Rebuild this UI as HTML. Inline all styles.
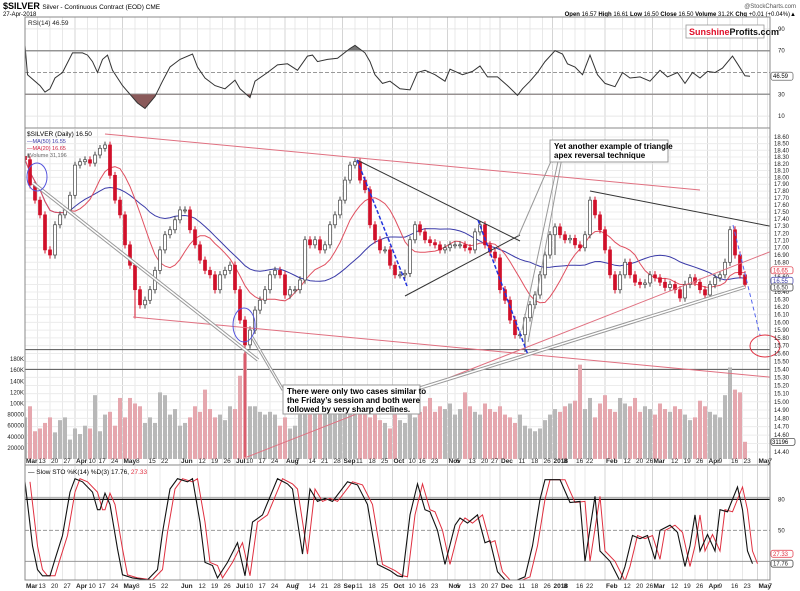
<!DOCTYPE html>
<html><head><meta charset="utf-8"><style>
html,body{margin:0;padding:0;background:#fff;}
svg{display:block;font-family:"Liberation Sans",sans-serif;}
</style></head><body>
<svg id="chart" width="800" height="591" viewBox="0 0 800 591" xmlns="http://www.w3.org/2000/svg">
<rect x="0" y="0" width="800" height="591" fill="#fff"/>
<text x="3" y="9" font-size="9" font-weight="bold">$SILVER <tspan font-size="6.5" font-weight="normal">Silver - Continuous Contract (EOD) CME</tspan></text>
<text x="3" y="16" font-size="6">27-Apr-2018</text>
<text x="796" y="8" font-size="6" text-anchor="end" fill="#555">@StockCharts.com</text>
<text x="796" y="16" font-size="6" text-anchor="end"><tspan font-weight="bold">Open</tspan> 16.57 <tspan font-weight="bold">High</tspan> 16.61 <tspan font-weight="bold">Low</tspan> 16.50 <tspan font-weight="bold">Close</tspan> 16.50 <tspan font-weight="bold">Volume</tspan> 31.2K <tspan font-weight="bold">Chg</tspan> +0.01 (+0.04%)▲</text>
<g id="grid"></g>
<g id="rsi"></g>
<g id="price"></g>
<g id="stoch"></g>
<g id="axes"></g>
<g id="annot"></g>
</svg>
<script>
const NS="http://www.w3.org/2000/svg";
const closes=[18.26,17.89,17.67,17.46,16.97,16.90,17.32,17.46,17.53,17.74,18.18,18.23,18.26,18.21,18.33,18.43,18.48,18.03,17.67,17.46,17.04,16.76,16.43,16.23,16.29,16.43,16.69,16.97,17.18,17.25,17.39,17.53,17.53,17.25,17.04,16.83,16.69,16.63,16.43,16.63,16.69,16.76,16.43,16.03,15.71,15.90,16.16,16.29,16.43,16.63,16.69,16.63,16.36,16.43,16.43,16.56,17.11,17.04,17.11,16.97,17.04,17.32,17.46,17.67,17.96,18.18,18.23,17.96,17.82,17.32,17.11,16.97,16.97,16.76,16.63,16.63,16.65,17.11,17.32,17.22,17.11,17.07,17.04,16.97,17.00,17.04,17.04,17.04,17.00,16.97,17.22,17.32,17.04,16.94,16.86,16.43,16.29,16.03,15.84,15.84,16.06,16.23,16.36,16.63,16.90,17.18,17.29,17.18,17.11,17.13,17.04,17.00,17.18,17.67,17.46,17.25,16.97,16.63,16.43,16.63,16.80,16.63,16.53,16.50,16.52,16.63,16.59,16.53,16.46,16.50,16.43,16.32,16.50,16.59,16.53,16.43,16.36,16.50,16.59,16.63,16.80,17.25,16.90,16.63,16.50];
const volumesK=[75,95,50,55,65,75,48,70,75,35,55,45,60,55,115,50,80,85,60,110,75,110,100,95,65,75,65,120,115,80,90,60,65,75,95,85,125,90,75,80,70,95,90,150,190,95,95,85,80,85,80,60,75,55,60,80,80,80,90,95,85,80,80,90,100,105,95,90,85,75,80,70,65,55,80,70,65,80,75,85,95,110,85,95,90,100,80,90,120,95,85,80,100,90,85,95,80,75,65,80,60,55,50,55,70,80,90,85,95,100,105,170,90,110,75,100,115,90,85,110,100,95,110,85,95,90,80,100,90,85,95,90,80,70,75,105,95,85,80,75,115,165,125,120,31];
const lowWicks=[[44,14.34],[22,16.05],[100,15.62],[106,16.9]];
const rsiPts=[[0,75],[1,48],[6,38],[8,32],[10,35],[12,45],[15,50],[19,68],[23,68],[25,66],[27,60],[29,50],[31,62],[33,66],[35,52],[39,38],[42,30],[45,22],[48,17],[52,28],[55,42],[58,55],[62,62],[67,67],[69,55],[72,45],[76,38],[80,35],[84,43],[86,35],[90,27],[92,42],[97,50],[101,57],[105,58],[109,52],[113,65],[115,66],[117,60],[121,62],[125,63],[130,72],[132,75],[136,68],[138,60],[140,48],[143,40],[146,42],[150,35],[154,34],[157,50],[160,52],[164,48],[168,42],[170,53],[175,48],[179,51],[182,56],[185,46],[189,46],[193,38],[197,29],[199,35],[202,42],[205,50],[208,60],[212,70],[215,67],[217,58],[220,55],[223,48],[226,66],[229,48],[232,40],[236,37],[239,50],[242,45],[246,46],[250,42],[254,52],[257,46],[261,50],[264,40],[267,50],[270,45],[273,51],[276,50],[279,54],[283,65],[285,58],[288,47],[290,46.59]];
const stochK=[[0,97],[3,35],[5,12],[7,6],[10,6],[12,22],[15,45],[18,87],[20,100],[23,97],[27,87],[29,70],[30,70],[32,86],[34,75],[37,32],[39,7],[43,4],[49,2],[53,12],[55,48],[58,90],[61,100],[65,97],[67,100],[70,58],[72,19],[75,16],[77,4],[81,19],[85,38],[88,6],[91,58],[95,65],[101,100],[105,95],[107,90],[111,27],[114,90],[117,78],[120,81],[123,78],[129,97],[133,94],[137,75],[141,17],[146,11],[149,6],[151,5],[154,65],[157,95],[160,70],[162,68],[165,50],[168,17],[172,55],[174,62],[177,57],[181,65],[184,38],[186,40],[189,10],[192,2],[195,0],[197,2],[200,5],[203,35],[206,80],[208,99],[214,99],[218,77],[222,78],[224,20],[228,83],[230,30],[234,20],[238,1],[240,15],[243,45],[246,42],[249,45],[252,22],[254,50],[258,55],[261,48],[264,15],[266,35],[268,65],[270,30],[273,46],[276,30],[278,70],[281,68],[285,92],[287,70],[289,30],[291,17.76]];
const dateTicks=[["Mar",0,1],["13",5,0],["20",10,0],["27",15,0],["Apr",20,1],["10",25,0],["17",29,0],["24",34,0],["May",39,1],["8",44,0],["15",49,0],["22",54,0],["Jun",62,1],["12",69,0],["19",74,0],["26",79,0],["Jul",84,1],["10",88,0],["17",93,0],["24",98,0],["Aug",104,1],["7",108,0],["14",113,0],["21",118,0],["28",123,0],["Sep",127,1],["11",132,0],["18",137,0],["25",142,0],["Oct",147,1],["10",153,0],["16",157,0],["23",162,0],["Nov",169,1],["6",172,0],["13",177,0],["20",182,0],["27",186,0],["Dec",190,1],["11",197,0],["18",202,0],["26",207,0],["2018",211,1],["8",215,0],["16",220,0],["22",224,0],["Feb",232,1],["12",239,0],["20",244,0],["26",248,0],["Mar",251,1],["12",258,0],["19",263,0],["26",268,0],["Apr",273,1],["9",277,0],["16",282,0],["23",287,0],["May",293,1],["7",297,0]];
const priceTicks=[18.6,18.5,18.4,18.3,18.2,18.1,18.0,17.9,17.8,17.7,17.6,17.5,17.4,17.3,17.2,17.1,17.0,16.9,16.8,16.7,16.6,16.5,16.4,16.3,16.2,16.1,16.0,15.9,15.8,15.7,15.6,15.5,15.4,15.3,15.2,15.1,15.0,14.9,14.8,14.7,14.6,14.5,14.4];
const volTicks=[["180K",180],["160K",160],["140K",140],["120K",120],["100K",100],["80000",80],["60000",60],["40000",40],["20000",20]];
const rsiTicks=[90,70,50,30,10];

const L=25,R=770;
const xD=d=>L+2.5*d;
const yP=p=>137+1231*Math.log(18.6/p);
const yV=v=>459-v*0.555;
const yR=v=>72.5-(v-50)*1.09;
const yS=v=>582-1.033*v;

function mk(parent,tag,attrs){const e=document.createElementNS(NS,tag);for(const k in attrs)e.setAttribute(k,attrs[k]);parent.appendChild(e);return e;}
const svg=document.getElementById('chart');
const gGrid=document.getElementById('grid'),gR=document.getElementById('rsi'),gP=document.getElementById('price'),gS=document.getElementById('stoch'),gA=document.getElementById('axes'),gN=document.getElementById('annot');

// clip paths
const defs=mk(svg,'defs',{});
const cp=mk(defs,'clipPath',{id:'cpP'});mk(cp,'rect',{x:L,y:129,width:R-L,height:336});
const cr=mk(defs,'clipPath',{id:'cpR'});mk(cr,'rect',{x:L,y:17,width:R-L,height:111});
const cs=mk(defs,'clipPath',{id:'cpS'});mk(cs,'rect',{x:L,y:466,width:R-L,height:114});
const cLo=mk(defs,'clipPath',{id:'cpLo'});mk(cLo,'rect',{x:L,y:yR(30),width:R-L,height:60});
const cHi=mk(defs,'clipPath',{id:'cpHi'});mk(cHi,'rect',{x:L,y:0,width:R-L,height:yR(70)});

// vertical grid + date labels
dateTicks.forEach(t=>{
  const x=xD(t[1]);
  [[17,128],[129,465],[466,580]].forEach(r=>{
    const ln=mk(gGrid,'line',{x1:x,x2:x,y1:r[0],y2:r[1],stroke:t[2]?'#d4d4d4':'#e8e8e8','stroke-width':1});
    
    
  });
  [463,588].forEach(yy=>{
    const tx=mk(gA,'text',{x:x+1,y:yy,'font-size':6.5,'font-weight':t[2]?'bold':'normal',fill:'#222'});
    tx.textContent=t[0];
    
    
  });
});
// price horizontal grid & labels
priceTicks.forEach(p=>{
  const y=yP(p);
  if(y<465){const ln=mk(gGrid,'line',{x1:L,x2:R,y1:y,y2:y,stroke:'#ececec'});
  
  }
  const tx=mk(gA,'text',{x:774,y:y+2,'font-size':6,fill:'#222'});
  tx.textContent=p.toFixed(2);
  
  
});
volTicks.forEach(v=>{
  const tx=mk(gA,'text',{x:24,y:yV(v[1])+2,'font-size':6,'text-anchor':'end',fill:'#222'});
  tx.textContent=v[0];
  
  
});
rsiTicks.forEach(v=>{
  const y=yR(v);
  const ln=mk(gGrid,'line',{x1:L,x2:R,y1:y,y2:y,stroke:v==70||v==30?'#999':'#e6e6e6','stroke-width':v==70||v==30?1.5:1,'stroke-dasharray':v==50?'4,2':'none'});
  if(v==50)ln.setAttribute('stroke','#999');
  
  
  if(v!=50){const tx=mk(gA,'text',{x:778,y:y+2,'font-size':6,fill:'#222'});tx.textContent=v;
  
  }
});
// panel frames
[[17,128],[128,465],[465,580]].forEach(r=>{
  const rc=mk(gA,'rect',{x:L,y:r[0],width:R-L,height:r[1]-r[0],fill:'none',stroke:'#888','stroke-width':1});
  
  
});

// RSI
const rsiD=rsiPts.map((p,i)=>(i?'L':'M')+xD(p[0]).toFixed(1)+','+yR(p[1]).toFixed(1)).join('');
const areaBase=(lvl)=>rsiD+'L'+xD(rsiPts[rsiPts.length-1][0])+','+yR(lvl)+'L'+xD(0)+','+yR(lvl)+'Z';
const fLo=mk(gR,'path',{d:areaBase(30),fill:'#8a5a5a','clip-path':'url(#cpLo)'});


const fHi=mk(gR,'path',{d:areaBase(70),fill:'#777','clip-path':'url(#cpHi)'});


const rl=mk(gR,'path',{d:rsiD,fill:'none',stroke:'#333','stroke-width':1});


const rlab=mk(gR,'text',{x:28,y:25,'font-size':6.5,fill:'#222'});rlab.textContent='RSI(14) 46.59';


const rv=mk(gA,'rect',{x:771,y:yR(46.59)-4,width:22,height:8,fill:'#fff',stroke:'#444','stroke-width':0.6,rx:2});


const rvt=mk(gA,'text',{x:773,y:yR(46.59)+2,'font-size':6});rvt.textContent='46.59';


// logo
const lg=mk(gR,'rect',{x:686,y:25,width:78,height:13,fill:'#fff',stroke:'#999','stroke-width':0.8});


const lt=mk(gR,'text',{x:689,y:35,'font-size':9,'font-weight':'bold'});
lt.innerHTML='<tspan fill="#e0102a">Sunshine</tspan><tspan fill="#111">Profits.com</tspan>';



// Price panel
const pg=mk(gP,'g',{'clip-path':'url(#cpP)'});


// horizontal black levels
[15.65,15.40].forEach(p=>{const ln=mk(pg,'line',{x1:L,x2:R,y1:yP(p),y2:yP(p),stroke:'#555','stroke-width':1});

});
// volume
closes.forEach((c,i)=>{
  const prev=i?closes[i-1]:c;
  const b=mk(pg,'rect',{x:xD(2*i)-2,y:yV(volumesK[i]),width:4,height:459-yV(volumesK[i]),fill:c<prev?'#e5a7ae':'#b8b8b8'});
  
  
});
// MAs
function ma(n){return closes.map((c,i)=>{const s=closes.slice(Math.max(0,i-n+1),i+1);return s.reduce((a,b)=>a+b,0)/s.length;});}
const ma50=ma(25),ma20=ma(10);
const m50=mk(pg,'path',{d:ma50.map((v,i)=>(i?'L':'M')+xD(2*i)+','+yP(v).toFixed(1)).join(''),fill:'none',stroke:'#3a3aa8','stroke-width':1});


const m20=mk(pg,'path',{d:ma20.map((v,i)=>(i?'L':'M')+xD(2*i)+','+yP(v).toFixed(1)).join(''),fill:'none',stroke:'#e05060','stroke-width':1});


// candles
closes.forEach((c,i)=>{
  const o=i?closes[i-1]:c+0.05;
  const x=xD(2*i);
  let hi=Math.max(o,c)+0.05, lo=Math.min(o,c)-0.05;
  lowWicks.forEach(w=>{if(w[0]==i)lo=w[1];});
  const down=c<o;
  const w=mk(pg,'line',{x1:x,x2:x,y1:yP(hi),y2:yP(lo),stroke:down?'#d0102a':'#444','stroke-width':1});
  
  
  const top=yP(Math.max(o,c)),bot=yP(Math.min(o,c));
  const r=mk(pg,'rect',{x:x-1.5,y:top,width:3,height:Math.max(1,bot-top),fill:down?'#d0102a':'#fff',stroke:down?'#d0102a':'#444','stroke-width':0.7});
  
  
});
// annotation lines (trendlines)
function line(g,x1,y1,x2,y2,st,w,dash,name){const l=mk(g,'line',{x1,y1,x2,y2,stroke:st,'stroke-width':w,'stroke-dasharray':dash||'none'});return l;}
line(pg,105,134,700,190,'#e07080',1,0,'upper-channel-line');
line(pg,133,317,800,380,'#e07080',1,0,'lower-channel-line');
line(pg,247,457,800,240,'#e07080',1,0,'rising-support-line');
line(pg,357,160,520,241,'#333',1,0,'triangle-upper-line');
line(pg,405,296,520,235,'#333',1,0,'triangle-lower-line');
line(pg,590,191,800,232,'#333',1,0,'resistance-line');
line(pg,33,183,258,360,'#999',3.5,0,'gray-trend-line-outer');
line(pg,33,183,258,360,'#fff',1.5,0,'gray-trend-line-inner');
line(pg,420,388,745,287,'#999',3.5,0,'gray-support-outer');
line(pg,420,388,745,287,'#fff',1.5,0,'gray-support-inner');
line(pg,252,337,283,390,'#999',3,0,'pointer-line');
line(pg,252,337,283,390,'#fff',1,0,'pointer-line-inner');
line(pg,555,152,518,237,'#999',1,0,'pointer-line');
line(pg,560,152,522,330,'#999',1,0,'pointer-line');
line(pg,563,152,528,342,'#999',1,0,'pointer-line');
line(pg,357,160,407,286,'#2233dd',1.5,'4,2','blue-dashed-decline');
line(pg,478,220,528,355,'#2233dd',1.5,'4,2','blue-dashed-decline');
line(pg,733,225,760,335,'#5566ee',1,'4,3','projected-decline');
const c1=mk(pg,'ellipse',{cx:37,cy:177,rx:10,ry:14,fill:'none',stroke:'#5555dd','stroke-width':1});


const c2=mk(pg,'ellipse',{cx:244,cy:325,rx:11,ry:17,fill:'none',stroke:'#5555dd','stroke-width':1});


const c3=mk(gP,'ellipse',{cx:765,cy:346,rx:15,ry:11,fill:'none',stroke:'#e03040','stroke-width':1});


// legend
const lgd=mk(gP,'text',{x:27,y:136,'font-size':6.5});
lgd.textContent='$SILVER (Daily) 16.50';


[['—MA(50) 16.55','#3a3aa8',143],['—MA(20) 16.65','#d02040',150],['▮Volume 31,196','#666',157]].forEach(e=>{
  const t=mk(gP,'text',{x:27,y:e[2],'font-size':5.5,fill:e[1]});t.textContent=e[0];
  
  
});
// value boxes on right axis
[[16.65,'#e03040'],[16.55,'#3a3aa8'],[16.50,'#333']].forEach((b,k)=>{
  const y=yP(b[0])+(k-1)*3;
  const r=mk(gA,'rect',{x:771,y:y-3.5,width:22,height:7,fill:'#fff',stroke:b[1],'stroke-width':0.7,rx:2});
  
  
  const t=mk(gA,'text',{x:773,y:y+2,'font-size':6,fill:b[1]});t.textContent=b[0].toFixed(2);
  
  
});
const vb=mk(gA,'rect',{x:771,y:yV(31)-3.5,width:24,height:7,fill:'#fff',stroke:'#333','stroke-width':0.7,rx:2});


const vbt=mk(gA,'text',{x:772,y:yV(31)+2,'font-size':6});vbt.textContent='31196';



// annotation boxes
function box(x,y,w,h,lines,name){
  const g=mk(gN,'g',{});
  mk(g,'rect',{x,y,width:w,height:h,fill:'#fff',stroke:'#999','stroke-width':1});
  lines.forEach((s,i)=>{const t=mk(g,'text',{x:x+4,y:y+9+i*9,'font-size':8,'font-weight':'bold'});t.textContent=s;});
}
box(550,140,118,22,['Yet another example of triangle','apex reversal technique'],'triangle-annotation');
box(283,385,137,29,['There were only two cases similar to','the Friday\u2019s session and both were','followed by very sharp declines.'],'declines-annotation');

// Stochastic
const sg=mk(gS,'g',{'clip-path':'url(#cpS)'});


line(sg,L,yS(80)-2,R,yS(80)-2,'#aaa',1,0,'stoch-80-gray');
line(sg,L,yS(80),R,yS(80),'#111',1.2,0,'stoch-80-line');
line(sg,L,yS(50),R,yS(50),'#999',1,'4,2','stoch-50-line');
line(sg,L,yS(20),R,yS(20),'#999',1,0,'stoch-20-line');
const dPath=stochK.map((p,i)=>(i?'L':'M')+xD(p[0]+2).toFixed(1)+','+yS(p[1]).toFixed(1)).join('');
const sd=mk(sg,'path',{d:dPath,fill:'none',stroke:'#e03040','stroke-width':1});


const kPath=stochK.map((p,i)=>(i?'L':'M')+xD(p[0]).toFixed(1)+','+yS(p[1]).toFixed(1)).join('');
const sk=mk(sg,'path',{d:kPath,fill:'none',stroke:'#111','stroke-width':1.1});


const sl=mk(gS,'text',{x:28,y:474,'font-size':6.5});
sl.innerHTML='— Slow STO %K(14) %D(3) 17.76, <tspan fill="#e03040">27.33</tspan>';


[[80,'80','#222'],[50,'50','#222']].forEach(t=>{const x=mk(gA,'text',{x:778,y:yS(t[0])+2,'font-size':6,fill:t[2]});x.textContent=t[1];

});
[[27.33,'#e03040'],[17.76,'#333']].forEach(b=>{
  const y=yS(b[0]);
  const r=mk(gA,'rect',{x:771,y:y-3.5,width:22,height:7,fill:'#fff',stroke:b[1],'stroke-width':0.7,rx:2});
  
  
  const t=mk(gA,'text',{x:773,y:y+2,'font-size':6,fill:b[1]});t.textContent=b[0].toFixed(2);
  
  
});
</script>
</body></html>
